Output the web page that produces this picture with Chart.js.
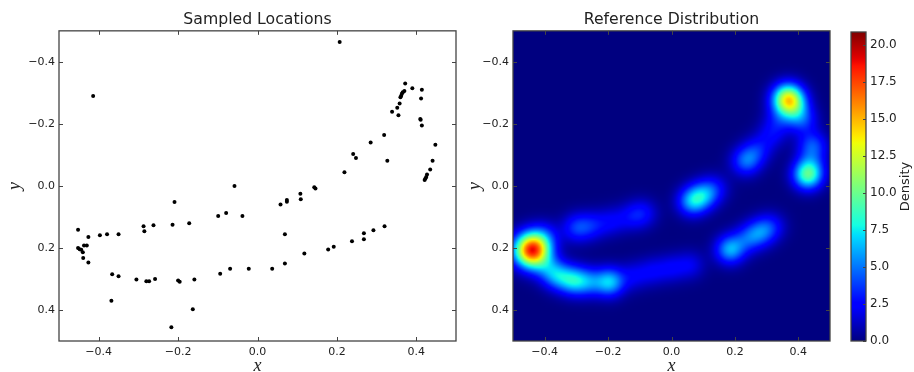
<!DOCTYPE html>
<html>
<head>
<meta charset="utf-8">
<script src="https://cdn.jsdelivr.net/npm/chart.js@4.4.1/dist/chart.umd.min.js"></script>
<style>
  html, body { margin: 0; padding: 0; background: #fff; }
  #wrap { position: relative; width: 914px; height: 372px; overflow: hidden; }
  canvas { position: absolute; top: 0; }
</style>
</head>
<body>
<div id="wrap">
  <canvas id="samples" width="460" height="372" style="left:0px"></canvas>
  <canvas id="density" width="372" height="372" style="left:460px"></canvas>
  <canvas id="cbar" width="74" height="372" style="left:840px"></canvas>
</div>
<script>
// sampled locations (left panel)
const sampleX = [-0.414, 0.207, 0.372, 0.390, 0.414, 0.370, 0.366, 0.364, 0.362, 0.360,
  0.412, 0.358, 0.352, 0.339, 0.355, 0.410, 0.411, 0.414, 0.319, 0.285,
  0.448, 0.241, 0.248, 0.327, 0.441, 0.435, 0.219, 0.427, 0.425, 0.421,
  0.423, -0.058, 0.143, 0.146, 0.108, 0.109, 0.074, 0.074, 0.058, -0.209,
  -0.079, -0.099, -0.038, -0.172, -0.214, -0.262, -0.287, -0.285, -0.452, -0.426,
  -0.397, -0.379, -0.350, -0.437, -0.430, -0.452, -0.448, -0.444, -0.440, -0.439,
  -0.426, -0.366, -0.350, -0.305, -0.280, -0.273, -0.258, -0.200, -0.196, -0.159,
  -0.368, -0.163, -0.217, 0.069, 0.118, 0.178, 0.069, 0.037, -0.022, -0.069,
  -0.094, 0.192, 0.238, 0.268, 0.268, 0.292, 0.320];
const sampleY = [-0.290, -0.464, -0.330, -0.315, -0.310, -0.306, -0.302, -0.298, -0.291, -0.286,
  -0.282, -0.266, -0.252, -0.239, -0.228, -0.216, -0.213, -0.195, -0.164, -0.140,
  -0.133, -0.103, -0.090, -0.081, -0.081, -0.053, -0.044, -0.037, -0.029, -0.019,
  -0.024, 0.000, 0.004, 0.008, 0.025, 0.043, 0.045, 0.051, 0.060, 0.052,
  0.087, 0.097, 0.097, 0.120, 0.125, 0.127, 0.130, 0.146, 0.141, 0.165,
  0.159, 0.156, 0.156, 0.192, 0.192, 0.200, 0.204, 0.206, 0.214, 0.232,
  0.247, 0.285, 0.291, 0.302, 0.307, 0.307, 0.300, 0.305, 0.309, 0.302,
  0.370, 0.398, 0.456, 0.156, 0.218, 0.205, 0.250, 0.267, 0.267, 0.267,
  0.283, 0.196, 0.178, 0.172, 0.153, 0.143, 0.130];

// reference distribution, read as gaussian bumps (centre, peak, width)
const blobX = [-0.440, -0.400, -0.390,
  -0.300, -0.250, -0.190, -0.130, -0.090,
  0.065, 0.100, 0.135,
  0.235, 0.270, 0.315, 0.340,
  0.368, 0.390, 0.415, 0.445, 0.430, 0.440,
  -0.360, -0.310, -0.260, -0.195,
  -0.120, -0.060, 0.000, 0.060,
  0.185, 0.240, 0.280, 0.315];
const blobY = [0.207, 0.160, 0.265,
  0.135, 0.128, 0.115, 0.100, 0.088,
  0.050, 0.030, 0.008,
  -0.080, -0.115, -0.165, -0.215,
  -0.280, -0.245, -0.210, -0.130, -0.035, -0.075,
  0.290, 0.305, 0.310, 0.310,
  0.290, 0.275, 0.265, 0.255,
  0.205, 0.170, 0.150, 0.130];
const blobPeak = [18.5, 2.2, 2.6,
  3.3, 2.4, 1.9, 1.7, 2.3,
  5.5, 4.4, 2.2,
  4.4, 2.5, 2.0, 2.1,
  13.0, 3.0, 3.0, 3.9, 8.8, 2.2,
  4.6, 6.0, 4.0, 6.5,
  1.9, 1.9, 1.9, 1.9,
  6.0, 3.0, 3.8, 2.3];
const blobSigma = [0.038, 0.032, 0.032,
  0.032, 0.032, 0.032, 0.032, 0.032,
  0.032, 0.032, 0.032,
  0.032, 0.032, 0.032, 0.032,
  0.034, 0.032, 0.032, 0.032, 0.032, 0.032,
  0.032, 0.032, 0.032, 0.032,
  0.032, 0.032, 0.032, 0.032,
  0.032, 0.032, 0.032, 0.032];

const axisMin = -0.5, axisMax = 0.5;
const axisTicks = [-0.4, -0.2, 0.0, 0.2, 0.4];
const densityMax = 20.9;
const cbarTicks = [0, 2.5, 5, 7.5, 10, 12.5, 15, 17.5, 20];
const gridN = 200;

const tickFont = { family: 'DejaVu Sans', size: 11 };
const titleFont = { family: 'DejaVu Sans', size: 15.7, weight: 'normal', lineHeight: 1.2 };
const mathFont = { family: 'Liberation Serif', size: 18, style: 'italic', lineHeight: 0.66 };
const textColor = '#222';
const frameColor = '#444';

function fmt(v) {
  const r = Math.round(v * 10) / 10;
  return (r === 0 ? '0.0' : r.toFixed(1)).replace('-', '\u2212');
}

function jet(t) {
  t = Math.max(0, Math.min(1, t));
  const seg = (pts) => {
    for (let i = 1; i < pts.length; i++) {
      if (t <= pts[i][0]) {
        const [x0, y0] = pts[i - 1], [x1, y1] = pts[i];
        return y0 + (y1 - y0) * (t - x0) / (x1 - x0);
      }
    }
    return pts[pts.length - 1][1];
  };
  const r = seg([[0, 0], [0.35, 0], [0.66, 1], [0.89, 1], [1, 0.5]]);
  const g = seg([[0, 0], [0.125, 0], [0.375, 1], [0.64, 1], [0.91, 0], [1, 0]]);
  const b = seg([[0, 0.5], [0.11, 1], [0.34, 1], [0.65, 0], [1, 0]]);
  return [Math.round(r * 255), Math.round(g * 255), Math.round(b * 255)];
}

function densityAt(x, y) {
  let v = 0;
  for (let k = 0; k < blobX.length; k++) {
    const dx = x - blobX[k], dy = y - blobY[k], s = blobSigma[k];
    v += blobPeak[k] * Math.exp(-(dx * dx + dy * dy) / (2 * s * s));
  }
  return v;
}

// build the density image once
const heatImg = document.createElement('canvas');
heatImg.width = gridN; heatImg.height = gridN;
(() => {
  const ctx = heatImg.getContext('2d');
  const img = ctx.createImageData(gridN, gridN);
  const span = axisMax - axisMin;
  for (let j = 0; j < gridN; j++) {
    const y = axisMin + (j + 0.5) * span / gridN;
    for (let i = 0; i < gridN; i++) {
      const x = axisMin + (i + 0.5) * span / gridN;
      const c = jet(densityAt(x, y) / densityMax);
      const p = (j * gridN + i) * 4;
      img.data[p] = c[0]; img.data[p + 1] = c[1]; img.data[p + 2] = c[2]; img.data[p + 3] = 255;
    }
  }
  ctx.putImageData(img, 0, 0);
})();

const setTicks = (values) => (s) => { s.ticks = values.map(v => ({ value: v })); };

// frame + inward ticks like matplotlib classic
const framePlugin = {
  id: 'frame',
  afterDraw(chart, args, opts) {
    const { ctx, chartArea: a } = chart;
    const len = opts.tickLen || 4;
    ctx.save();
    ctx.strokeStyle = frameColor;
    ctx.lineWidth = 1;
    if (opts.xTicks) {
      const sx = chart.scales.x;
      sx.ticks.forEach(t => {
        const px = Math.round(sx.getPixelForValue(t.value)) + 0.5;
        ctx.beginPath();
        ctx.moveTo(px, a.bottom); ctx.lineTo(px, a.bottom - len);
        ctx.moveTo(px, a.top); ctx.lineTo(px, a.top + len);
        ctx.stroke();
      });
    }
    const sy = chart.scales.y;
    sy.ticks.forEach(t => {
      const py = Math.round(sy.getPixelForValue(t.value)) + 0.5;
      ctx.beginPath();
      if (opts.yLeft) { ctx.moveTo(a.left, py); ctx.lineTo(a.left + len, py); }
      ctx.moveTo(a.right, py); ctx.lineTo(a.right - len, py);
      ctx.stroke();
    });
    ctx.lineWidth = 1.3;
    ctx.strokeRect(a.left, a.top, a.right - a.left, a.bottom - a.top);
    if (opts.label) {
      ctx.fillStyle = textColor;
      ctx.font = '13px "DejaVu Sans"';
      ctx.textAlign = 'center';
      ctx.textBaseline = 'middle';
      ctx.translate(opts.labelX, (a.top + a.bottom) / 2);
      ctx.rotate(-Math.PI / 2);
      ctx.fillText(opts.label, 0, 0);
    }
    ctx.restore();
  }
};

const heatPlugin = {
  id: 'heat',
  beforeDatasetsDraw(chart) {
    const { ctx } = chart;
    const sx = chart.scales.x, sy = chart.scales.y;
    const x0 = sx.getPixelForValue(axisMin), x1 = sx.getPixelForValue(axisMax);
    const y0 = sy.getPixelForValue(axisMin), y1 = sy.getPixelForValue(axisMax);
    ctx.save();
    ctx.imageSmoothingEnabled = true;
    ctx.drawImage(heatImg, x0, y0, x1 - x0, y1 - y0);
    ctx.restore();
  }
};

const cbarPlugin = {
  id: 'cbarFill',
  beforeDatasetsDraw(chart) {
    const { ctx, chartArea: a } = chart;
    const sy = chart.scales.y;
    const yb = sy.getPixelForValue(0), yt = sy.getPixelForValue(densityMax);
    const grad = ctx.createLinearGradient(0, yb, 0, yt);
    for (let i = 0; i <= 64; i++) {
      const c = jet(i / 64);
      grad.addColorStop(i / 64, `rgb(${c[0]},${c[1]},${c[2]})`);
    }
    ctx.save();
    ctx.fillStyle = grad;
    ctx.fillRect(a.left, yt, a.right - a.left, yb - yt);
    ctx.restore();
  }
};

function positionScales(yWidth, xHeight) {
  return {
    x: {
      type: 'linear', min: axisMin, max: axisMax,
      grid: { display: false, drawTicks: false }, border: { display: false },
      ticks: { padding: 5, color: textColor, font: tickFont, maxRotation: 0,
               autoSkip: false, callback: fmt },
      afterBuildTicks: setTicks(axisTicks),
      title: { display: true, text: 'x', color: textColor, font: mathFont, padding: 0 },
      afterFit: s => { s.height = xHeight; }
    },
    y: {
      type: 'linear', min: axisMin, max: axisMax, reverse: true,
      grid: { display: false, drawTicks: false }, border: { display: false },
      ticks: { padding: 4, color: textColor, font: tickFont, autoSkip: false, callback: fmt },
      afterBuildTicks: setTicks(axisTicks),
      title: { display: true, text: 'y', color: textColor,
               font: Object.assign({}, mathFont, { lineHeight: 1 }), padding: { top: 6 } },
      afterFit: s => { s.width = yWidth; }
    }
  };
}

function panelTitle(text) {
  return { display: true, text: text, color: textColor, font: titleFont,
           fullSize: false, padding: { top: 11, bottom: 1 } };
}

Chart.defaults.animation = false;

new Chart(document.getElementById('samples'), {
  type: 'scatter',
  data: {
    datasets: [{
      data: sampleX.map((x, i) => ({ x: x, y: sampleY[i] })),
      backgroundColor: '#000', borderColor: '#000', pointRadius: 2, borderWidth: 0
    }]
  },
  options: {
    responsive: false,
    layout: { padding: { left: 0, right: 2, top: 0, bottom: 0 } },
    plugins: {
      legend: { display: false }, tooltip: { enabled: false },
      title: panelTitle('Sampled Locations'),
      frame: { xTicks: true, yLeft: true, tickLen: 4 }
    },
    scales: positionScales(59, 31)
  },
  plugins: [framePlugin]
});

new Chart(document.getElementById('density'), {
  type: 'scatter',
  data: { datasets: [] },
  options: {
    responsive: false,
    layout: { padding: { left: 0, right: 2, top: 0, bottom: 0 } },
    plugins: {
      legend: { display: false }, tooltip: { enabled: false },
      title: panelTitle('Reference Distribution'),
      frame: { xTicks: true, yLeft: true, tickLen: 4 }
    },
    scales: positionScales(53, 31)
  },
  plugins: [heatPlugin, framePlugin]
});

new Chart(document.getElementById('cbar'), {
  type: 'scatter',
  data: { datasets: [] },
  options: {
    responsive: false,
    layout: { padding: { left: 11, right: 0, top: 32, bottom: 31 } },
    plugins: {
      legend: { display: false }, tooltip: { enabled: false },
      frame: { xTicks: false, yLeft: false, tickLen: 3, label: 'Density', labelX: 66 }
    },
    scales: {
      x: { type: 'linear', min: 0, max: 1, display: false },
      y: {
        type: 'linear', position: 'right', min: 0, max: densityMax,
        grid: { display: false, drawTicks: false }, border: { display: false },
        ticks: { padding: 4, color: textColor, font: { family: 'DejaVu Sans', size: 12 },
                 autoSkip: false, callback: v => v.toFixed(1) },
        afterBuildTicks: setTicks(cbarTicks),
        afterFit: s => { s.width = 48; }
      }
    }
  },
  plugins: [cbarPlugin, framePlugin]
});
</script>
</body>
</html>
